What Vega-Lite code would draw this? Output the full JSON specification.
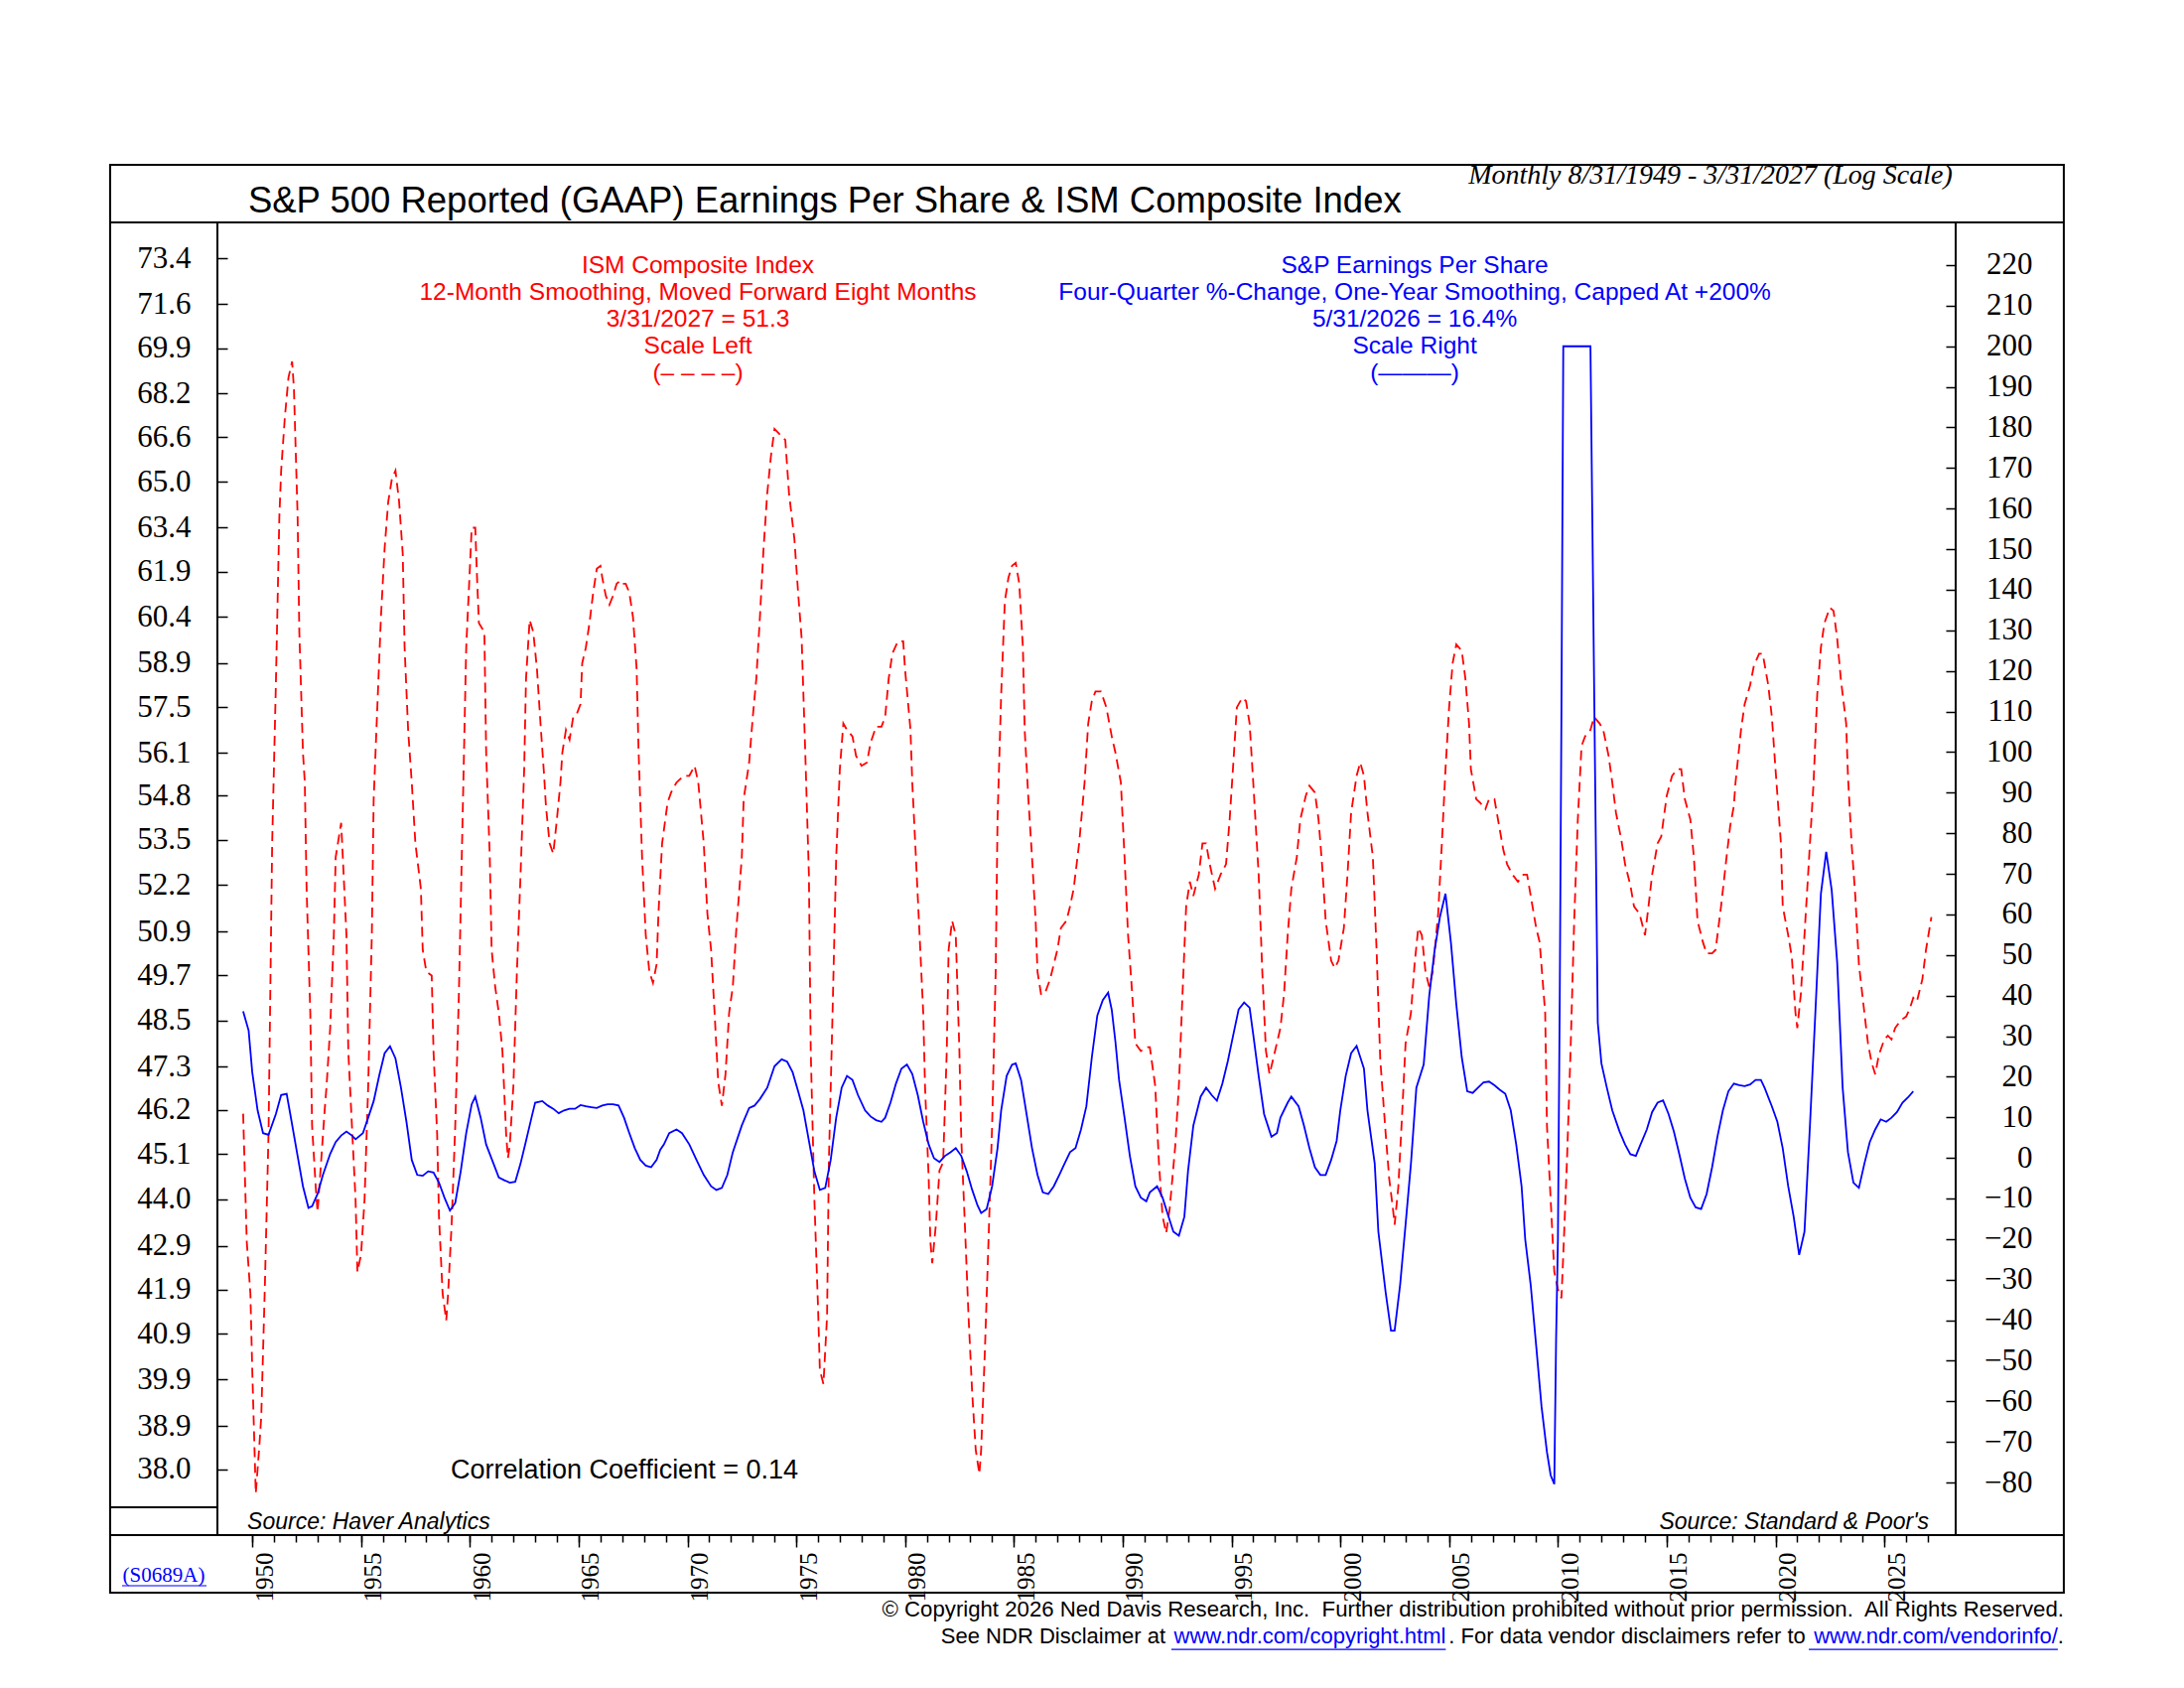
{
  "$schema": "https://vega.github.io/schema/vega-lite/v6.json",
  "width": 1751,
  "height": 1322,
  "autosize": {"type": "none"},
  "padding": {"left": 219, "top": 224, "right": 230, "bottom": 154},
  "background": "white",
  "config": {
    "view": {"stroke": "#000000", "strokeWidth": 2},
    "axis": {"grid": false, "domain": false, "tickColor": "#000000", "labelColor": "#000000", "tickWidth": 1.5}
  },
  "datasets": {
    "ism": [
      {"date": "1949-08", "ism": 46.1}, {"date": "1949-10", "ism": 43.0}, {"date": "1949-12", "ism": 41.8},
      {"date": "1950-01", "ism": 40.1}, {"date": "1950-03", "ism": 37.5}, {"date": "1950-05", "ism": 38.5},
      {"date": "1950-06", "ism": 39.1}, {"date": "1950-08", "ism": 42.0}, {"date": "1950-10", "ism": 45.6},
      {"date": "1950-11", "ism": 49.4}, {"date": "1950-12", "ism": 53.4}, {"date": "1951-02", "ism": 58.2},
      {"date": "1951-04", "ism": 63.8}, {"date": "1951-05", "ism": 65.4}, {"date": "1951-07", "ism": 67.3},
      {"date": "1951-09", "ism": 68.8}, {"date": "1951-11", "ism": 69.4}, {"date": "1951-12", "ism": 68.4},
      {"date": "1952-02", "ism": 63.8}, {"date": "1952-03", "ism": 59.9}, {"date": "1952-05", "ism": 56.1},
      {"date": "1952-06", "ism": 55.2}, {"date": "1952-07", "ism": 52.1}, {"date": "1952-09", "ism": 48.7},
      {"date": "1952-10", "ism": 45.8}, {"date": "1952-12", "ism": 44.3}, {"date": "1953-01", "ism": 43.7},
      {"date": "1953-03", "ism": 44.9}, {"date": "1953-05", "ism": 46.2}, {"date": "1953-06", "ism": 46.8},
      {"date": "1953-08", "ism": 48.3}, {"date": "1953-10", "ism": 50.8}, {"date": "1953-11", "ism": 53.0},
      {"date": "1954-02", "ism": 54.0}, {"date": "1954-03", "ism": 53.0}, {"date": "1954-05", "ism": 50.8},
      {"date": "1954-06", "ism": 47.7}, {"date": "1954-08", "ism": 45.8}, {"date": "1954-10", "ism": 44.0},
      {"date": "1954-11", "ism": 42.3}, {"date": "1955-01", "ism": 42.7}, {"date": "1955-03", "ism": 44.0},
      {"date": "1955-05", "ism": 46.8}, {"date": "1955-07", "ism": 50.8}, {"date": "1955-08", "ism": 54.7},
      {"date": "1955-10", "ism": 57.5}, {"date": "1955-12", "ism": 60.4}, {"date": "1956-02", "ism": 62.7},
      {"date": "1956-04", "ism": 64.3}, {"date": "1956-06", "ism": 65.1}, {"date": "1956-08", "ism": 65.4},
      {"date": "1956-10", "ism": 64.3}, {"date": "1956-12", "ism": 62.5}, {"date": "1957-01", "ism": 59.4},
      {"date": "1957-03", "ism": 56.8}, {"date": "1957-05", "ism": 55.2}, {"date": "1957-07", "ism": 53.4},
      {"date": "1957-10", "ism": 52.1}, {"date": "1957-11", "ism": 50.4}, {"date": "1958-01", "ism": 49.8},
      {"date": "1958-04", "ism": 49.7}, {"date": "1958-05", "ism": 47.7}, {"date": "1958-07", "ism": 45.6},
      {"date": "1958-08", "ism": 43.6}, {"date": "1958-10", "ism": 41.8}, {"date": "1958-12", "ism": 41.2},
      {"date": "1959-01", "ism": 41.8}, {"date": "1959-03", "ism": 43.4}, {"date": "1959-05", "ism": 45.8},
      {"date": "1959-07", "ism": 49.2}, {"date": "1959-09", "ism": 54.1}, {"date": "1959-11", "ism": 59.4},
      {"date": "1960-01", "ism": 62.0}, {"date": "1960-02", "ism": 63.4}, {"date": "1960-04", "ism": 63.4},
      {"date": "1960-05", "ism": 61.7}, {"date": "1960-06", "ism": 60.2}, {"date": "1960-09", "ism": 59.9},
      {"date": "1960-10", "ism": 56.1}, {"date": "1960-12", "ism": 53.0}, {"date": "1961-01", "ism": 50.4},
      {"date": "1961-03", "ism": 49.4}, {"date": "1961-05", "ism": 48.7}, {"date": "1961-07", "ism": 47.7},
      {"date": "1961-09", "ism": 45.6}, {"date": "1961-10", "ism": 45.0}, {"date": "1961-11", "ism": 45.3},
      {"date": "1962-01", "ism": 46.8}, {"date": "1962-03", "ism": 49.8}, {"date": "1962-05", "ism": 52.5},
      {"date": "1962-07", "ism": 55.6}, {"date": "1962-08", "ism": 58.4}, {"date": "1962-10", "ism": 60.3},
      {"date": "1962-12", "ism": 59.9}, {"date": "1963-02", "ism": 58.7}, {"date": "1963-04", "ism": 57.0},
      {"date": "1963-06", "ism": 55.4}, {"date": "1963-07", "ism": 54.5}, {"date": "1963-09", "ism": 53.4},
      {"date": "1963-11", "ism": 53.1}, {"date": "1964-01", "ism": 54.1}, {"date": "1964-03", "ism": 55.2},
      {"date": "1964-04", "ism": 56.1}, {"date": "1964-06", "ism": 56.8}, {"date": "1964-08", "ism": 56.5},
      {"date": "1964-10", "ism": 57.2}, {"date": "1964-12", "ism": 57.3}, {"date": "1965-02", "ism": 57.6},
      {"date": "1965-03", "ism": 58.9}, {"date": "1965-05", "ism": 59.4}, {"date": "1965-07", "ism": 60.2},
      {"date": "1965-09", "ism": 61.2}, {"date": "1965-11", "ism": 62.0}, {"date": "1966-01", "ism": 62.1},
      {"date": "1966-02", "ism": 61.7}, {"date": "1966-04", "ism": 61.1}, {"date": "1966-06", "ism": 60.8},
      {"date": "1966-08", "ism": 61.1}, {"date": "1966-10", "ism": 61.5}, {"date": "1966-12", "ism": 61.6},
      {"date": "1967-01", "ism": 61.5}, {"date": "1967-03", "ism": 61.5}, {"date": "1967-05", "ism": 61.2},
      {"date": "1967-07", "ism": 60.4}, {"date": "1967-09", "ism": 58.7}, {"date": "1967-10", "ism": 56.3},
      {"date": "1967-12", "ism": 53.0}, {"date": "1968-02", "ism": 50.8}, {"date": "1968-04", "ism": 49.8},
      {"date": "1968-06", "ism": 49.5}, {"date": "1968-08", "ism": 50.0}, {"date": "1968-09", "ism": 51.4},
      {"date": "1968-11", "ism": 53.4}, {"date": "1969-02", "ism": 54.6}, {"date": "1969-04", "ism": 54.9},
      {"date": "1969-07", "ism": 55.2}, {"date": "1969-11", "ism": 55.4}, {"date": "1970-02", "ism": 55.4},
      {"date": "1970-05", "ism": 55.7}, {"date": "1970-07", "ism": 55.2}, {"date": "1970-10", "ism": 53.4},
      {"date": "1970-12", "ism": 51.4}, {"date": "1971-02", "ism": 50.4}, {"date": "1971-04", "ism": 48.7},
      {"date": "1971-06", "ism": 46.9}, {"date": "1971-08", "ism": 46.3}, {"date": "1971-10", "ism": 47.1},
      {"date": "1971-12", "ism": 48.7}, {"date": "1972-02", "ism": 49.4}, {"date": "1972-04", "ism": 51.0},
      {"date": "1972-07", "ism": 53.0}, {"date": "1972-08", "ism": 54.7}, {"date": "1972-11", "ism": 55.8},
      {"date": "1973-01", "ism": 57.2}, {"date": "1973-03", "ism": 58.4}, {"date": "1973-05", "ism": 60.4},
      {"date": "1973-07", "ism": 62.7}, {"date": "1973-09", "ism": 64.6}, {"date": "1973-11", "ism": 65.9},
      {"date": "1974-01", "ism": 66.9}, {"date": "1974-04", "ism": 66.7}, {"date": "1974-07", "ism": 66.5},
      {"date": "1974-09", "ism": 64.6}, {"date": "1974-12", "ism": 63.0}, {"date": "1975-02", "ism": 61.2},
      {"date": "1975-04", "ism": 59.7}, {"date": "1975-06", "ism": 56.1}, {"date": "1975-08", "ism": 52.5},
      {"date": "1975-09", "ism": 47.7}, {"date": "1975-11", "ism": 44.0}, {"date": "1976-01", "ism": 41.5},
      {"date": "1976-02", "ism": 40.1}, {"date": "1976-04", "ism": 39.8}, {"date": "1976-06", "ism": 41.3},
      {"date": "1976-07", "ism": 44.9}, {"date": "1976-09", "ism": 48.7}, {"date": "1976-11", "ism": 53.0},
      {"date": "1977-01", "ism": 55.6}, {"date": "1977-03", "ism": 57.0}, {"date": "1977-05", "ism": 56.8},
      {"date": "1977-08", "ism": 56.6}, {"date": "1977-10", "ism": 56.0}, {"date": "1978-01", "ism": 55.7},
      {"date": "1978-04", "ism": 55.8}, {"date": "1978-06", "ism": 56.4}, {"date": "1978-09", "ism": 56.9},
      {"date": "1978-12", "ism": 56.9}, {"date": "1979-02", "ism": 57.2}, {"date": "1979-04", "ism": 58.4},
      {"date": "1979-06", "ism": 59.2}, {"date": "1979-09", "ism": 59.6}, {"date": "1979-12", "ism": 59.6},
      {"date": "1980-01", "ism": 58.7}, {"date": "1980-04", "ism": 56.8}, {"date": "1980-05", "ism": 55.2},
      {"date": "1980-07", "ism": 53.0}, {"date": "1980-09", "ism": 50.8}, {"date": "1980-11", "ism": 48.7},
      {"date": "1980-12", "ism": 46.8}, {"date": "1981-02", "ism": 44.5}, {"date": "1981-03", "ism": 43.0},
      {"date": "1981-04", "ism": 42.5}, {"date": "1981-06", "ism": 43.4}, {"date": "1981-08", "ism": 44.7},
      {"date": "1981-10", "ism": 44.9}, {"date": "1981-12", "ism": 47.7}, {"date": "1982-01", "ism": 50.4},
      {"date": "1982-03", "ism": 51.2}, {"date": "1982-05", "ism": 50.8}, {"date": "1982-07", "ism": 47.7},
      {"date": "1982-08", "ism": 45.5}, {"date": "1982-10", "ism": 43.4}, {"date": "1982-12", "ism": 41.3},
      {"date": "1983-02", "ism": 39.6}, {"date": "1983-04", "ism": 38.4}, {"date": "1983-06", "ism": 37.9},
      {"date": "1983-07", "ism": 38.4}, {"date": "1983-09", "ism": 40.5}, {"date": "1983-11", "ism": 43.0},
      {"date": "1984-01", "ism": 45.8}, {"date": "1984-03", "ism": 49.8}, {"date": "1984-04", "ism": 54.1},
      {"date": "1984-06", "ism": 57.9}, {"date": "1984-08", "ism": 60.9}, {"date": "1984-10", "ism": 61.7},
      {"date": "1984-12", "ism": 62.1}, {"date": "1985-02", "ism": 62.2}, {"date": "1985-04", "ism": 61.5},
      {"date": "1985-06", "ism": 59.4}, {"date": "1985-07", "ism": 56.8}, {"date": "1985-09", "ism": 54.7},
      {"date": "1985-11", "ism": 53.0}, {"date": "1986-01", "ism": 51.2}, {"date": "1986-02", "ism": 49.8},
      {"date": "1986-04", "ism": 49.2}, {"date": "1986-06", "ism": 49.2}, {"date": "1986-09", "ism": 49.6},
      {"date": "1986-11", "ism": 50.0}, {"date": "1987-01", "ism": 50.4}, {"date": "1987-03", "ism": 51.0},
      {"date": "1987-06", "ism": 51.2}, {"date": "1987-08", "ism": 51.6}, {"date": "1987-10", "ism": 52.1},
      {"date": "1988-01", "ism": 53.4}, {"date": "1988-04", "ism": 55.2}, {"date": "1988-06", "ism": 57.0},
      {"date": "1988-08", "ism": 57.7}, {"date": "1988-10", "ism": 58.0}, {"date": "1989-01", "ism": 58.0},
      {"date": "1989-04", "ism": 57.5}, {"date": "1989-07", "ism": 56.6}, {"date": "1989-09", "ism": 56.1},
      {"date": "1989-12", "ism": 55.2}, {"date": "1990-02", "ism": 53.0}, {"date": "1990-04", "ism": 50.8},
      {"date": "1990-06", "ism": 49.4}, {"date": "1990-08", "ism": 47.9}, {"date": "1990-11", "ism": 47.7},
      {"date": "1991-02", "ism": 47.8}, {"date": "1991-04", "ism": 47.8}, {"date": "1991-07", "ism": 46.8},
      {"date": "1991-09", "ism": 44.9}, {"date": "1991-11", "ism": 43.6}, {"date": "1992-01", "ism": 43.2},
      {"date": "1992-03", "ism": 43.8}, {"date": "1992-06", "ism": 45.3}, {"date": "1992-08", "ism": 46.8},
      {"date": "1992-10", "ism": 49.2}, {"date": "1992-12", "ism": 51.6}, {"date": "1993-02", "ism": 52.3},
      {"date": "1993-04", "ism": 51.9}, {"date": "1993-07", "ism": 52.5}, {"date": "1993-09", "ism": 53.4},
      {"date": "1993-11", "ism": 53.4}, {"date": "1994-01", "ism": 52.8}, {"date": "1994-04", "ism": 52.1},
      {"date": "1994-07", "ism": 52.5}, {"date": "1994-10", "ism": 52.8}, {"date": "1994-12", "ism": 54.1},
      {"date": "1995-02", "ism": 55.8}, {"date": "1995-04", "ism": 57.5}, {"date": "1995-07", "ism": 57.8},
      {"date": "1995-09", "ism": 57.7}, {"date": "1995-11", "ism": 57.0}, {"date": "1996-01", "ism": 55.2},
      {"date": "1996-04", "ism": 52.5}, {"date": "1996-06", "ism": 49.8}, {"date": "1996-08", "ism": 47.7},
      {"date": "1996-10", "ism": 47.1}, {"date": "1997-01", "ism": 47.7}, {"date": "1997-04", "ism": 48.3},
      {"date": "1997-06", "ism": 49.2}, {"date": "1997-08", "ism": 50.8}, {"date": "1997-10", "ism": 52.1},
      {"date": "1998-01", "ism": 53.0}, {"date": "1998-03", "ism": 54.1}, {"date": "1998-06", "ism": 54.8},
      {"date": "1998-08", "ism": 55.1}, {"date": "1998-11", "ism": 54.9}, {"date": "1999-01", "ism": 54.1},
      {"date": "1999-03", "ism": 52.8}, {"date": "1999-05", "ism": 51.2}, {"date": "1999-08", "ism": 50.1},
      {"date": "1999-10", "ism": 49.9}, {"date": "1999-12", "ism": 50.1}, {"date": "2000-03", "ism": 51.0},
      {"date": "2000-05", "ism": 52.5}, {"date": "2000-07", "ism": 54.3}, {"date": "2000-10", "ism": 55.4},
      {"date": "2000-12", "ism": 55.8}, {"date": "2001-02", "ism": 55.4}, {"date": "2001-04", "ism": 54.3},
      {"date": "2001-07", "ism": 53.0}, {"date": "2001-09", "ism": 50.4}, {"date": "2001-11", "ism": 47.5},
      {"date": "2002-02", "ism": 45.6}, {"date": "2002-04", "ism": 44.5}, {"date": "2002-06", "ism": 43.8},
      {"date": "2002-07", "ism": 43.4}, {"date": "2002-09", "ism": 44.3}, {"date": "2002-11", "ism": 46.0},
      {"date": "2003-01", "ism": 47.9}, {"date": "2003-04", "ism": 48.7}, {"date": "2003-06", "ism": 50.0},
      {"date": "2003-08", "ism": 51.0}, {"date": "2003-10", "ism": 50.8}, {"date": "2003-12", "ism": 49.8},
      {"date": "2004-02", "ism": 49.4}, {"date": "2004-04", "ism": 49.8}, {"date": "2004-07", "ism": 51.4},
      {"date": "2004-09", "ism": 53.4}, {"date": "2004-11", "ism": 55.6}, {"date": "2005-01", "ism": 57.5},
      {"date": "2005-03", "ism": 58.9}, {"date": "2005-05", "ism": 59.5}, {"date": "2005-08", "ism": 59.3},
      {"date": "2005-10", "ism": 58.4}, {"date": "2005-12", "ism": 57.0}, {"date": "2006-01", "ism": 55.6},
      {"date": "2006-04", "ism": 54.7}, {"date": "2006-06", "ism": 54.6}, {"date": "2006-09", "ism": 54.4},
      {"date": "2006-11", "ism": 54.7}, {"date": "2007-02", "ism": 54.7}, {"date": "2007-04", "ism": 54.1},
      {"date": "2007-07", "ism": 53.2}, {"date": "2007-09", "ism": 52.8}, {"date": "2007-12", "ism": 52.5},
      {"date": "2008-03", "ism": 52.3}, {"date": "2008-06", "ism": 52.5}, {"date": "2008-08", "ism": 52.5},
      {"date": "2008-10", "ism": 51.9}, {"date": "2009-01", "ism": 51.0}, {"date": "2009-03", "ism": 50.6},
      {"date": "2009-06", "ism": 48.7}, {"date": "2009-07", "ism": 45.8}, {"date": "2009-09", "ism": 44.0},
      {"date": "2009-11", "ism": 42.3}, {"date": "2010-01", "ism": 41.9}, {"date": "2010-03", "ism": 41.7},
      {"date": "2010-04", "ism": 42.7}, {"date": "2010-06", "ism": 44.9}, {"date": "2010-08", "ism": 47.7},
      {"date": "2010-10", "ism": 51.2}, {"date": "2010-12", "ism": 54.1}, {"date": "2011-02", "ism": 56.3},
      {"date": "2011-04", "ism": 56.6}, {"date": "2011-07", "ism": 56.8}, {"date": "2011-09", "ism": 57.2},
      {"date": "2011-12", "ism": 57.0}, {"date": "2012-02", "ism": 56.8}, {"date": "2012-05", "ism": 56.0},
      {"date": "2012-07", "ism": 55.2}, {"date": "2012-09", "ism": 54.3}, {"date": "2012-12", "ism": 53.5},
      {"date": "2013-02", "ism": 52.8}, {"date": "2013-05", "ism": 52.2}, {"date": "2013-07", "ism": 51.6},
      {"date": "2013-10", "ism": 51.4}, {"date": "2014-01", "ism": 50.8}, {"date": "2014-03", "ism": 51.6},
      {"date": "2014-05", "ism": 52.5}, {"date": "2014-08", "ism": 53.4}, {"date": "2014-10", "ism": 53.6},
      {"date": "2015-01", "ism": 54.8}, {"date": "2015-04", "ism": 55.4}, {"date": "2015-07", "ism": 55.6},
      {"date": "2015-09", "ism": 55.6}, {"date": "2015-11", "ism": 54.7}, {"date": "2016-02", "ism": 54.1},
      {"date": "2016-04", "ism": 53.0}, {"date": "2016-06", "ism": 51.2}, {"date": "2016-09", "ism": 50.6},
      {"date": "2016-11", "ism": 50.3}, {"date": "2017-02", "ism": 50.3}, {"date": "2017-04", "ism": 50.4},
      {"date": "2017-07", "ism": 51.6}, {"date": "2017-10", "ism": 53.0}, {"date": "2017-12", "ism": 53.9},
      {"date": "2018-02", "ism": 54.5}, {"date": "2018-03", "ism": 55.2}, {"date": "2018-06", "ism": 56.8},
      {"date": "2018-08", "ism": 57.6}, {"date": "2018-11", "ism": 58.2}, {"date": "2019-01", "ism": 58.8},
      {"date": "2019-04", "ism": 59.2}, {"date": "2019-06", "ism": 59.2}, {"date": "2019-09", "ism": 58.2},
      {"date": "2019-11", "ism": 57.2}, {"date": "2020-01", "ism": 55.6}, {"date": "2020-04", "ism": 53.4},
      {"date": "2020-05", "ism": 51.6}, {"date": "2020-08", "ism": 50.8}, {"date": "2020-10", "ism": 50.2},
      {"date": "2020-12", "ism": 48.7}, {"date": "2021-01", "ism": 48.3}, {"date": "2021-03", "ism": 49.2},
      {"date": "2021-05", "ism": 50.8}, {"date": "2021-07", "ism": 52.5}, {"date": "2021-08", "ism": 53.4},
      {"date": "2021-10", "ism": 55.2}, {"date": "2021-12", "ism": 57.9}, {"date": "2022-02", "ism": 59.4},
      {"date": "2022-04", "ism": 60.2}, {"date": "2022-07", "ism": 60.7}, {"date": "2022-09", "ism": 60.6},
      {"date": "2022-11", "ism": 59.7}, {"date": "2023-01", "ism": 58.4}, {"date": "2023-04", "ism": 57.0},
      {"date": "2023-05", "ism": 55.4}, {"date": "2023-07", "ism": 53.4}, {"date": "2023-09", "ism": 51.9},
      {"date": "2023-11", "ism": 50.0}, {"date": "2024-02", "ism": 48.7}, {"date": "2024-04", "ism": 47.9},
      {"date": "2024-06", "ism": 47.4}, {"date": "2024-08", "ism": 47.1}, {"date": "2024-10", "ism": 47.6},
      {"date": "2025-01", "ism": 48.0}, {"date": "2025-03", "ism": 48.1}, {"date": "2025-05", "ism": 48.0},
      {"date": "2025-07", "ism": 48.3}, {"date": "2025-10", "ism": 48.5}, {"date": "2026-01", "ism": 48.6},
      {"date": "2026-03", "ism": 48.8}, {"date": "2026-05", "ism": 49.1}, {"date": "2026-07", "ism": 49.0},
      {"date": "2026-10", "ism": 49.6}, {"date": "2026-12", "ism": 50.4}, {"date": "2027-03", "ism": 51.3}
    ],
    "eps": [
      {"date": "1949-08", "eps": 36.1}, {"date": "1949-11", "eps": 31.4}, {"date": "1950-01", "eps": 21.1},
      {"date": "1950-04", "eps": 11.7}, {"date": "1950-07", "eps": 6.1}, {"date": "1950-10", "eps": 5.7},
      {"date": "1951-02", "eps": 10.8}, {"date": "1951-05", "eps": 15.5}, {"date": "1951-08", "eps": 15.8},
      {"date": "1951-10", "eps": 10.8}, {"date": "1952-02", "eps": 0.5}, {"date": "1952-05", "eps": -7.0},
      {"date": "1952-08", "eps": -12.3}, {"date": "1952-10", "eps": -11.9}, {"date": "1953-01", "eps": -8.9},
      {"date": "1953-04", "eps": -4.2}, {"date": "1953-08", "eps": 1.0}, {"date": "1953-11", "eps": 3.9},
      {"date": "1954-02", "eps": 5.5}, {"date": "1954-05", "eps": 6.5}, {"date": "1954-08", "eps": 5.5},
      {"date": "1954-10", "eps": 4.6}, {"date": "1955-02", "eps": 6.1}, {"date": "1955-05", "eps": 9.9},
      {"date": "1955-08", "eps": 14.0}, {"date": "1955-11", "eps": 20.2}, {"date": "1956-02", "eps": 25.8},
      {"date": "1956-05", "eps": 27.5}, {"date": "1956-08", "eps": 24.5}, {"date": "1956-11", "eps": 17.3},
      {"date": "1957-02", "eps": 8.9}, {"date": "1957-05", "eps": -0.5}, {"date": "1957-08", "eps": -4.2},
      {"date": "1957-11", "eps": -4.4}, {"date": "1958-02", "eps": -3.3}, {"date": "1958-05", "eps": -3.6},
      {"date": "1958-08", "eps": -6.1}, {"date": "1958-11", "eps": -9.8}, {"date": "1959-02", "eps": -13.0},
      {"date": "1959-05", "eps": -11.1}, {"date": "1959-08", "eps": -3.3}, {"date": "1959-11", "eps": 6.1},
      {"date": "1960-02", "eps": 13.2}, {"date": "1960-04", "eps": 15.1}, {"date": "1960-07", "eps": 9.9},
      {"date": "1960-10", "eps": 3.3}, {"date": "1961-02", "eps": -1.4}, {"date": "1961-05", "eps": -4.8},
      {"date": "1961-08", "eps": -5.5}, {"date": "1961-11", "eps": -6.1}, {"date": "1962-02", "eps": -5.9},
      {"date": "1962-05", "eps": -1.4}, {"date": "1962-08", "eps": 4.2}, {"date": "1962-11", "eps": 9.9},
      {"date": "1963-01", "eps": 13.6}, {"date": "1963-05", "eps": 14.0}, {"date": "1963-08", "eps": 12.9},
      {"date": "1963-11", "eps": 12.1}, {"date": "1964-02", "eps": 11.0}, {"date": "1964-05", "eps": 11.7},
      {"date": "1964-08", "eps": 12.1}, {"date": "1964-11", "eps": 12.1}, {"date": "1965-02", "eps": 13.0},
      {"date": "1965-05", "eps": 12.7}, {"date": "1965-08", "eps": 12.5}, {"date": "1965-11", "eps": 12.3},
      {"date": "1966-02", "eps": 12.9}, {"date": "1966-05", "eps": 13.2}, {"date": "1966-08", "eps": 13.2},
      {"date": "1966-11", "eps": 12.9}, {"date": "1967-02", "eps": 9.9}, {"date": "1967-05", "eps": 6.1},
      {"date": "1967-08", "eps": 2.4}, {"date": "1967-11", "eps": -0.5}, {"date": "1968-02", "eps": -1.9},
      {"date": "1968-05", "eps": -2.3}, {"date": "1968-08", "eps": -0.5}, {"date": "1968-10", "eps": 2.0},
      {"date": "1968-12", "eps": 3.3}, {"date": "1969-03", "eps": 6.1}, {"date": "1969-07", "eps": 7.0},
      {"date": "1969-10", "eps": 6.1}, {"date": "1970-02", "eps": 3.3}, {"date": "1970-06", "eps": -0.5},
      {"date": "1970-10", "eps": -4.2}, {"date": "1971-02", "eps": -7.0}, {"date": "1971-05", "eps": -7.9},
      {"date": "1971-08", "eps": -7.4}, {"date": "1971-11", "eps": -4.2}, {"date": "1972-02", "eps": 1.4},
      {"date": "1972-07", "eps": 8.0}, {"date": "1972-11", "eps": 12.3}, {"date": "1973-02", "eps": 12.9},
      {"date": "1973-05", "eps": 14.5}, {"date": "1973-09", "eps": 17.3}, {"date": "1974-01", "eps": 22.6},
      {"date": "1974-05", "eps": 24.3}, {"date": "1974-08", "eps": 23.7}, {"date": "1974-11", "eps": 21.1},
      {"date": "1975-02", "eps": 16.4}, {"date": "1975-05", "eps": 11.7}, {"date": "1975-08", "eps": 4.2},
      {"date": "1975-11", "eps": -3.3}, {"date": "1976-02", "eps": -7.9}, {"date": "1976-05", "eps": -7.4},
      {"date": "1976-08", "eps": -0.5}, {"date": "1976-11", "eps": 9.9}, {"date": "1977-02", "eps": 17.3},
      {"date": "1977-05", "eps": 20.2}, {"date": "1977-08", "eps": 19.2}, {"date": "1977-11", "eps": 15.5},
      {"date": "1978-03", "eps": 11.7}, {"date": "1978-06", "eps": 10.2}, {"date": "1978-09", "eps": 9.3},
      {"date": "1978-12", "eps": 8.9}, {"date": "1979-02", "eps": 9.9}, {"date": "1979-05", "eps": 13.6},
      {"date": "1979-08", "eps": 18.3}, {"date": "1979-11", "eps": 22.0}, {"date": "1980-02", "eps": 23.0},
      {"date": "1980-05", "eps": 20.7}, {"date": "1980-08", "eps": 15.5}, {"date": "1980-11", "eps": 8.9},
      {"date": "1981-02", "eps": 3.3}, {"date": "1981-05", "eps": -0.1}, {"date": "1981-08", "eps": -1.0},
      {"date": "1981-11", "eps": 0.5}, {"date": "1982-02", "eps": 1.4}, {"date": "1982-05", "eps": 2.4},
      {"date": "1982-08", "eps": 0.5}, {"date": "1982-11", "eps": -3.3}, {"date": "1983-02", "eps": -7.9},
      {"date": "1983-05", "eps": -11.7}, {"date": "1983-07", "eps": -13.6}, {"date": "1983-10", "eps": -12.6},
      {"date": "1984-01", "eps": -7.0}, {"date": "1984-04", "eps": 2.4}, {"date": "1984-06", "eps": 11.7},
      {"date": "1984-09", "eps": 20.2}, {"date": "1984-12", "eps": 23.0}, {"date": "1985-02", "eps": 23.3},
      {"date": "1985-05", "eps": 19.2}, {"date": "1985-08", "eps": 10.8}, {"date": "1985-11", "eps": 2.4},
      {"date": "1986-02", "eps": -4.2}, {"date": "1986-05", "eps": -8.5}, {"date": "1986-08", "eps": -8.9},
      {"date": "1986-11", "eps": -7.0}, {"date": "1987-02", "eps": -4.2}, {"date": "1987-05", "eps": -1.4},
      {"date": "1987-08", "eps": 1.4}, {"date": "1987-11", "eps": 2.4}, {"date": "1988-02", "eps": 7.0},
      {"date": "1988-05", "eps": 12.7}, {"date": "1988-08", "eps": 24.8}, {"date": "1988-11", "eps": 35.1},
      {"date": "1989-02", "eps": 38.9}, {"date": "1989-05", "eps": 40.7}, {"date": "1989-07", "eps": 36.5},
      {"date": "1989-09", "eps": 28.6}, {"date": "1989-11", "eps": 19.2}, {"date": "1990-02", "eps": 9.9},
      {"date": "1990-05", "eps": 0.5}, {"date": "1990-08", "eps": -7.0}, {"date": "1990-11", "eps": -9.8},
      {"date": "1991-02", "eps": -10.7}, {"date": "1991-04", "eps": -8.5}, {"date": "1991-08", "eps": -7.0},
      {"date": "1991-11", "eps": -9.8}, {"date": "1992-02", "eps": -14.1}, {"date": "1992-05", "eps": -18.2},
      {"date": "1992-08", "eps": -19.2}, {"date": "1992-11", "eps": -14.5}, {"date": "1993-01", "eps": -3.3},
      {"date": "1993-04", "eps": 8.0}, {"date": "1993-08", "eps": 15.1}, {"date": "1993-11", "eps": 17.3},
      {"date": "1994-02", "eps": 15.5}, {"date": "1994-05", "eps": 14.1}, {"date": "1994-08", "eps": 18.3},
      {"date": "1994-11", "eps": 23.9}, {"date": "1995-02", "eps": 30.4}, {"date": "1995-05", "eps": 36.6},
      {"date": "1995-08", "eps": 38.3}, {"date": "1995-11", "eps": 37.0}, {"date": "1996-01", "eps": 30.4},
      {"date": "1996-04", "eps": 20.2}, {"date": "1996-07", "eps": 10.8}, {"date": "1996-11", "eps": 5.2},
      {"date": "1997-02", "eps": 6.1}, {"date": "1997-04", "eps": 9.9}, {"date": "1997-08", "eps": 13.6},
      {"date": "1997-10", "eps": 15.1}, {"date": "1998-02", "eps": 12.7}, {"date": "1998-05", "eps": 8.0},
      {"date": "1998-08", "eps": 2.4}, {"date": "1998-11", "eps": -2.3}, {"date": "1999-02", "eps": -4.2},
      {"date": "1999-05", "eps": -4.2}, {"date": "1999-08", "eps": -0.5}, {"date": "1999-11", "eps": 4.2},
      {"date": "2000-01", "eps": 11.7}, {"date": "2000-04", "eps": 20.2}, {"date": "2000-07", "eps": 25.8},
      {"date": "2000-10", "eps": 27.6}, {"date": "2001-02", "eps": 22.0}, {"date": "2001-04", "eps": 11.7},
      {"date": "2001-08", "eps": -1.4}, {"date": "2001-10", "eps": -18.2}, {"date": "2002-02", "eps": -33.2},
      {"date": "2002-05", "eps": -42.6}, {"date": "2002-07", "eps": -42.6}, {"date": "2002-10", "eps": -31.3},
      {"date": "2003-01", "eps": -16.4}, {"date": "2003-04", "eps": -1.4}, {"date": "2003-07", "eps": 17.3},
      {"date": "2003-11", "eps": 23.0}, {"date": "2004-02", "eps": 39.8}, {"date": "2004-05", "eps": 51.0},
      {"date": "2004-08", "eps": 59.5}, {"date": "2004-11", "eps": 65.1}, {"date": "2005-02", "eps": 52.9},
      {"date": "2005-05", "eps": 37.9}, {"date": "2005-08", "eps": 24.8}, {"date": "2005-11", "eps": 16.4},
      {"date": "2006-02", "eps": 16.0}, {"date": "2006-05", "eps": 17.3}, {"date": "2006-08", "eps": 18.6},
      {"date": "2006-11", "eps": 18.8}, {"date": "2007-02", "eps": 17.9}, {"date": "2007-05", "eps": 16.8},
      {"date": "2007-08", "eps": 15.8}, {"date": "2007-11", "eps": 11.7}, {"date": "2008-02", "eps": 3.3},
      {"date": "2008-05", "eps": -7.0}, {"date": "2008-07", "eps": -20.1}, {"date": "2008-10", "eps": -31.3},
      {"date": "2009-01", "eps": -46.3}, {"date": "2009-04", "eps": -61.3}, {"date": "2009-07", "eps": -72.5},
      {"date": "2009-09", "eps": -78.2}, {"date": "2009-11", "eps": -80.4}, {"date": "2009-12", "eps": -45.0},
      {"date": "2010-01", "eps": -20.0}, {"date": "2010-02", "eps": 40.0}, {"date": "2010-03", "eps": 110.0},
      {"date": "2010-04", "eps": 200.0}, {"date": "2011-07", "eps": 200.0}, {"date": "2011-11", "eps": 33.3},
      {"date": "2012-01", "eps": 23.3}, {"date": "2012-04", "eps": 17.3}, {"date": "2012-07", "eps": 11.7},
      {"date": "2012-11", "eps": 6.5}, {"date": "2013-02", "eps": 3.3}, {"date": "2013-05", "eps": 0.9},
      {"date": "2013-08", "eps": 0.5}, {"date": "2013-10", "eps": 2.7}, {"date": "2014-02", "eps": 7.0},
      {"date": "2014-05", "eps": 11.3}, {"date": "2014-08", "eps": 13.6}, {"date": "2014-11", "eps": 14.2},
      {"date": "2015-02", "eps": 10.8}, {"date": "2015-05", "eps": 6.5}, {"date": "2015-08", "eps": 0.9},
      {"date": "2015-11", "eps": -5.1}, {"date": "2016-02", "eps": -9.8}, {"date": "2016-05", "eps": -12.2},
      {"date": "2016-08", "eps": -12.6}, {"date": "2016-11", "eps": -8.9}, {"date": "2017-02", "eps": -2.3},
      {"date": "2017-05", "eps": 5.2}, {"date": "2017-08", "eps": 11.7}, {"date": "2017-11", "eps": 16.4},
      {"date": "2018-02", "eps": 18.3}, {"date": "2018-05", "eps": 17.9}, {"date": "2018-08", "eps": 17.7},
      {"date": "2018-11", "eps": 18.1}, {"date": "2019-02", "eps": 19.2}, {"date": "2019-05", "eps": 19.2},
      {"date": "2019-07", "eps": 17.3}, {"date": "2019-11", "eps": 12.7}, {"date": "2020-02", "eps": 8.9},
      {"date": "2020-05", "eps": 2.4}, {"date": "2020-08", "eps": -7.0}, {"date": "2020-11", "eps": -14.5},
      {"date": "2021-02", "eps": -23.9}, {"date": "2021-05", "eps": -18.2}, {"date": "2021-08", "eps": 8.0},
      {"date": "2021-11", "eps": 36.1}, {"date": "2022-02", "eps": 65.1}, {"date": "2022-05", "eps": 75.4},
      {"date": "2022-08", "eps": 66.0}, {"date": "2022-11", "eps": 48.2}, {"date": "2023-02", "eps": 17.3},
      {"date": "2023-05", "eps": 1.4}, {"date": "2023-08", "eps": -6.1}, {"date": "2023-11", "eps": -7.4},
      {"date": "2024-02", "eps": -1.4}, {"date": "2024-05", "eps": 3.9}, {"date": "2024-08", "eps": 7.0},
      {"date": "2024-11", "eps": 9.5}, {"date": "2025-02", "eps": 8.9}, {"date": "2025-05", "eps": 9.9},
      {"date": "2025-08", "eps": 11.3}, {"date": "2025-11", "eps": 13.6}, {"date": "2026-02", "eps": 14.9},
      {"date": "2026-05", "eps": 16.4}
    ]
  },
  "layer": [
    {
      "data": {"name": "ism"},
      "mark": {"type": "line", "color": "#ff0000", "strokeWidth": 1.8, "strokeDash": [10, 6]},
      "encoding": {
        "x": {
          "field": "date", "type": "temporal",
          "scale": {"domain": [{"year": 1948, "month": 5, "date": 26}, {"year": 2028, "month": 4, "date": 12}], "nice": false},
          "axis": {
            "orient": "bottom", "title": null, "labels": false, "tickSize": 7,
            "values": [
              {"year": 1950}, {"year": 1951}, {"year": 1952}, {"year": 1953}, {"year": 1954}, {"year": 1955},
              {"year": 1956}, {"year": 1957}, {"year": 1958}, {"year": 1959}, {"year": 1960}, {"year": 1961},
              {"year": 1962}, {"year": 1963}, {"year": 1964}, {"year": 1965}, {"year": 1966}, {"year": 1967},
              {"year": 1968}, {"year": 1969}, {"year": 1970}, {"year": 1971}, {"year": 1972}, {"year": 1973},
              {"year": 1974}, {"year": 1975}, {"year": 1976}, {"year": 1977}, {"year": 1978}, {"year": 1979},
              {"year": 1980}, {"year": 1981}, {"year": 1982}, {"year": 1983}, {"year": 1984}, {"year": 1985},
              {"year": 1986}, {"year": 1987}, {"year": 1988}, {"year": 1989}, {"year": 1990}, {"year": 1991},
              {"year": 1992}, {"year": 1993}, {"year": 1994}, {"year": 1995}, {"year": 1996}, {"year": 1997},
              {"year": 1998}, {"year": 1999}, {"year": 2000}, {"year": 2001}, {"year": 2002}, {"year": 2003},
              {"year": 2004}, {"year": 2005}, {"year": 2006}, {"year": 2007}, {"year": 2008}, {"year": 2009},
              {"year": 2010}, {"year": 2011}, {"year": 2012}, {"year": 2013}, {"year": 2014}, {"year": 2015},
              {"year": 2016}, {"year": 2017}, {"year": 2018}, {"year": 2019}, {"year": 2020}, {"year": 2021},
              {"year": 2022}, {"year": 2023}, {"year": 2024}, {"year": 2025}, {"year": 2026}, {"year": 2027}
            ]
          }
        },
        "y": {
          "field": "ism", "type": "quantitative",
          "scale": {"type": "log", "domain": [36.66, 74.85], "nice": false},
          "axis": {
            "orient": "left", "title": null, "format": ".1f",
            "values": [38.0, 38.9, 39.9, 40.9, 41.9, 42.9, 44.0, 45.1, 46.2, 47.3, 48.5, 49.7, 50.9, 52.2, 53.5, 54.8, 56.1, 57.5, 58.9, 60.4, 61.9, 63.4, 65.0, 66.6, 68.2, 69.9, 71.6, 73.4],
            "tickSize": -10, "labelPadding": 37, "labelAlign": "right", "labelBaseline": "middle",
            "labelFont": "Liberation Serif", "labelFontSize": 31, "labelOverlap": false
          }
        }
      }
    },
    {
      "data": {"name": "eps"},
      "mark": {"type": "line", "color": "#0000ff", "strokeWidth": 1.8},
      "encoding": {
        "x": {
          "field": "date", "type": "temporal",
          "scale": {"domain": [{"year": 1948, "month": 5, "date": 26}, {"year": 2028, "month": 4, "date": 12}], "nice": false},
          "axis": {
            "orient": "bottom", "title": null, "format": "%Y", "tickSize": 12,
            "values": [{"year": 1950}, {"year": 1955}, {"year": 1960}, {"year": 1965}, {"year": 1970}, {"year": 1975}, {"year": 1980}, {"year": 1985}, {"year": 1990}, {"year": 1995}, {"year": 2000}, {"year": 2005}, {"year": 2010}, {"year": 2015}, {"year": 2020}, {"year": 2025}],
            "labelAngle": -90, "labelAlign": "right", "labelBaseline": "top", "labelPadding": 5,
            "labelFont": "Liberation Serif", "labelFontSize": 25, "labelOverlap": false, "labelFlush": false
          }
        },
        "y": {
          "field": "eps", "type": "quantitative",
          "scale": {"domain": [-92.95, 230.52], "nice": false, "zero": false},
          "axis": {
            "orient": "right", "title": null, "format": "d",
            "values": [-80, -70, -60, -50, -40, -30, -20, -10, 0, 10, 20, 30, 40, 50, 60, 70, 80, 90, 100, 110, 120, 130, 140, 150, 160, 170, 180, 190, 200, 210, 220],
            "tickSize": -10, "labelPadding": 87, "labelAlign": "right", "labelBaseline": "middle",
            "labelFont": "Liberation Serif", "labelFontSize": 31, "labelOverlap": false
          }
        }
      }
    },
    {
      "layer": [
        {
          "data": {"values": [{}]},
          "mark": {"type": "rect", "fillOpacity": 0, "stroke": "#000000", "strokeWidth": 2},
          "encoding": {
            "x": {"datum": {"year": 1943, "month": 6, "date": 21}, "type": "temporal", "axis": null,
                  "scale": {"domain": [{"year": 1948, "month": 5, "date": 26}, {"year": 2028, "month": 4, "date": 12}], "nice": false}},
            "x2": {"datum": {"year": 2033, "month": 4, "date": 1}},
            "y": {"datum": 244.69, "type": "quantitative", "axis": null,
                  "scale": {"domain": [-92.95, 230.52], "nice": false, "zero": false}},
            "y2": {"datum": -107.16}
          }
        },
        {
          "data": {"values": [{}]},
          "mark": {"type": "rule", "stroke": "#000000", "strokeWidth": 2},
          "encoding": {
            "x": {"datum": {"year": 1943, "month": 6, "date": 21}, "type": "temporal", "axis": null},
            "x2": {"datum": {"year": 2033, "month": 4, "date": 1}},
            "y": {"datum": 230.52, "type": "quantitative", "axis": null}
          }
        },
        {
          "data": {"values": [{}]},
          "mark": {"type": "rule", "stroke": "#000000", "strokeWidth": 2},
          "encoding": {
            "x": {"datum": {"year": 1943, "month": 6, "date": 21}, "type": "temporal", "axis": null},
            "x2": {"datum": {"year": 2033, "month": 4, "date": 1}},
            "y": {"datum": -92.95, "type": "quantitative", "axis": null}
          }
        },
        {
          "data": {"values": [{}]},
          "mark": {"type": "rule", "stroke": "#000000", "strokeWidth": 2},
          "encoding": {
            "x": {"datum": {"year": 1943, "month": 6, "date": 21}, "type": "temporal", "axis": null},
            "x2": {"datum": {"year": 1948, "month": 5, "date": 26}},
            "y": {"datum": -86.09, "type": "quantitative", "axis": null}
          }
        },
        {
          "data": {"values": [{}]},
          "mark": {"type": "text", "text": "S&P 500 Reported (GAAP) Earnings Per Share & ISM Composite Index", "font": "Liberation Sans", "fontSize": 36.5, "align": "left", "baseline": "alphabetic", "color": "#000000"},
          "encoding": {
            "x": {"datum": {"year": 1949, "month": 10, "date": 23}, "type": "temporal", "axis": null},
            "y": {"datum": 232.95, "type": "quantitative", "axis": null}
          }
        },
        {
          "data": {"values": [{}]},
          "mark": {"type": "text", "text": "Monthly 8/31/1949 - 3/31/2027 (Log Scale)", "font": "Liberation Serif", "fontStyle": "italic", "fontSize": 28, "align": "center", "baseline": "alphabetic", "color": "#000000"},
          "encoding": {
            "x": {"datum": {"year": 2017, "month": 1, "date": 4}, "type": "temporal", "axis": null},
            "y": {"datum": 240.04, "type": "quantitative", "axis": null}
          }
        },
        {
          "data": {"values": [{}]},
          "mark": {"type": "text", "text": ["ISM Composite Index", "12-Month Smoothing, Moved Forward Eight Months", "3/31/2027 = 51.3", "Scale Left", "(– – – –)"], "lineHeight": 27, "font": "Liberation Sans", "fontSize": 24.5, "align": "center", "baseline": "alphabetic", "color": "#ff0000"},
          "encoding": {
            "x": {"datum": {"year": 1970, "month": 6, "date": 25}, "type": "temporal", "axis": null},
            "y": {"datum": 218.02, "type": "quantitative", "axis": null}
          }
        },
        {
          "data": {"values": [{}]},
          "mark": {"type": "text", "text": ["S&P Earnings Per Share", "Four-Quarter %-Change, One-Year Smoothing, Capped At +200%", "5/31/2026 = 16.4%", "Scale Right", "(———)"], "lineHeight": 27, "font": "Liberation Sans", "fontSize": 24.5, "align": "center", "baseline": "alphabetic", "color": "#0000ff"},
          "encoding": {
            "x": {"datum": {"year": 2003, "month": 6, "date": 3}, "type": "temporal", "axis": null},
            "y": {"datum": 218.02, "type": "quantitative", "axis": null}
          }
        },
        {
          "data": {"values": [{}]},
          "mark": {"type": "text", "text": "Correlation Coefficient = 0.14", "font": "Liberation Sans", "fontSize": 27, "align": "left", "baseline": "alphabetic", "color": "#000000"},
          "encoding": {
            "x": {"datum": {"year": 1959, "month": 2, "date": 14}, "type": "temporal", "axis": null},
            "y": {"datum": -79.0, "type": "quantitative", "axis": null}
          }
        },
        {
          "data": {"values": [{}]},
          "mark": {"type": "text", "text": "Source: Haver Analytics", "font": "Liberation Sans", "fontStyle": "italic", "fontSize": 23, "align": "left", "baseline": "alphabetic", "color": "#000000"},
          "encoding": {
            "x": {"datum": {"year": 1949, "month": 10, "date": 9}, "type": "temporal", "axis": null},
            "y": {"datum": -91.5, "type": "quantitative", "axis": null}
          }
        },
        {
          "data": {"values": [{}]},
          "mark": {"type": "text", "text": "Source: Standard & Poor's", "font": "Liberation Sans", "fontStyle": "italic", "fontSize": 23, "align": "right", "baseline": "alphabetic", "color": "#000000"},
          "encoding": {
            "x": {"datum": {"year": 2027, "month": 1, "date": 19}, "type": "temporal", "axis": null},
            "y": {"datum": -91.5, "type": "quantitative", "axis": null}
          }
        },
        {
          "data": {"values": [{}]},
          "mark": {"type": "text", "text": "(S0689A)", "font": "Liberation Serif", "fontSize": 21, "align": "center", "baseline": "alphabetic", "color": "#0000ff"},
          "encoding": {
            "x": {"datum": {"year": 1945, "month": 12, "date": 9}, "type": "temporal", "axis": null},
            "y": {"datum": -104.5, "type": "quantitative", "axis": null}
          }
        },
        {
          "data": {"values": [{}]},
          "mark": {"type": "rule", "stroke": "#0000ff", "strokeWidth": 1.2},
          "encoding": {
            "x": {"datum": {"year": 1944, "month": 1, "date": 8}, "type": "temporal", "axis": null},
            "x2": {"datum": {"year": 1947, "month": 11, "date": 25}},
            "y": {"datum": -105.43, "type": "quantitative", "axis": null}
          }
        },
        {
          "data": {"values": [{}]},
          "mark": {"type": "text", "text": "© Copyright 2026 Ned Davis Research, Inc.\u00a0 Further distribution prohibited without prior permission.\u00a0 All Rights Reserved.", "font": "Liberation Sans", "fontSize": 22.2, "align": "right", "baseline": "alphabetic", "color": "#000000"},
          "encoding": {
            "x": {"datum": {"year": 2033, "month": 4, "date": 1}, "type": "temporal", "axis": null},
            "y": {"datum": -113.0, "type": "quantitative", "axis": null}
          }
        },
        {
          "data": {"values": [{}]},
          "mark": {"type": "text", "text": "See NDR Disclaimer at", "font": "Liberation Sans", "fontSize": 22, "align": "right", "baseline": "alphabetic", "color": "#000000"},
          "encoding": {
            "x": {"datum": {"year": 1991, "month": 12, "date": 20}, "type": "temporal", "axis": null},
            "y": {"datum": -119.6, "type": "quantitative", "axis": null}
          }
        },
        {
          "data": {"values": [{}]},
          "mark": {"type": "text", "text": "www.ndr.com/copyright.html", "font": "Liberation Sans", "fontSize": 22, "align": "right", "baseline": "alphabetic", "color": "#0000ff"},
          "encoding": {
            "x": {"datum": {"year": 2004, "month": 11, "date": 6}, "type": "temporal", "axis": null},
            "y": {"datum": -119.6, "type": "quantitative", "axis": null}
          }
        },
        {
          "data": {"values": [{}]},
          "mark": {"type": "text", "text": ". For data vendor disclaimers refer to", "font": "Liberation Sans", "fontSize": 22, "align": "right", "baseline": "alphabetic", "color": "#000000"},
          "encoding": {
            "x": {"datum": {"year": 2021, "month": 5, "date": 20}, "type": "temporal", "axis": null},
            "y": {"datum": -119.6, "type": "quantitative", "axis": null}
          }
        },
        {
          "data": {"values": [{}]},
          "mark": {"type": "text", "text": "www.ndr.com/vendorinfo/", "font": "Liberation Sans", "fontSize": 22, "align": "right", "baseline": "alphabetic", "color": "#0000ff"},
          "encoding": {
            "x": {"datum": {"year": 2032, "month": 12, "date": 22}, "type": "temporal", "axis": null},
            "y": {"datum": -119.6, "type": "quantitative", "axis": null}
          }
        },
        {
          "data": {"values": [{}]},
          "mark": {"type": "text", "text": ".", "font": "Liberation Sans", "fontSize": 22, "align": "right", "baseline": "alphabetic", "color": "#000000"},
          "encoding": {
            "x": {"datum": {"year": 2033, "month": 4, "date": 1}, "type": "temporal", "axis": null},
            "y": {"datum": -119.6, "type": "quantitative", "axis": null}
          }
        },
        {
          "data": {"values": [{}]},
          "mark": {"type": "rule", "stroke": "#0000ff", "strokeWidth": 1.2},
          "encoding": {
            "x": {"datum": {"year": 1992, "month": 3, "date": 28}, "type": "temporal", "axis": null},
            "x2": {"datum": {"year": 2004, "month": 11, "date": 6}},
            "y": {"datum": -121.1, "type": "quantitative", "axis": null}
          }
        },
        {
          "data": {"values": [{}]},
          "mark": {"type": "rule", "stroke": "#0000ff", "strokeWidth": 1.2},
          "encoding": {
            "x": {"datum": {"year": 2021, "month": 7, "date": 13}, "type": "temporal", "axis": null},
            "x2": {"datum": {"year": 2032, "month": 12, "date": 22}},
            "y": {"datum": -121.1, "type": "quantitative", "axis": null}
          }
        }
      ]
    }
  ],
  "resolve": {"scale": {"x": "independent", "y": "independent"}, "axis": {"x": "independent", "y": "independent"}}
}
